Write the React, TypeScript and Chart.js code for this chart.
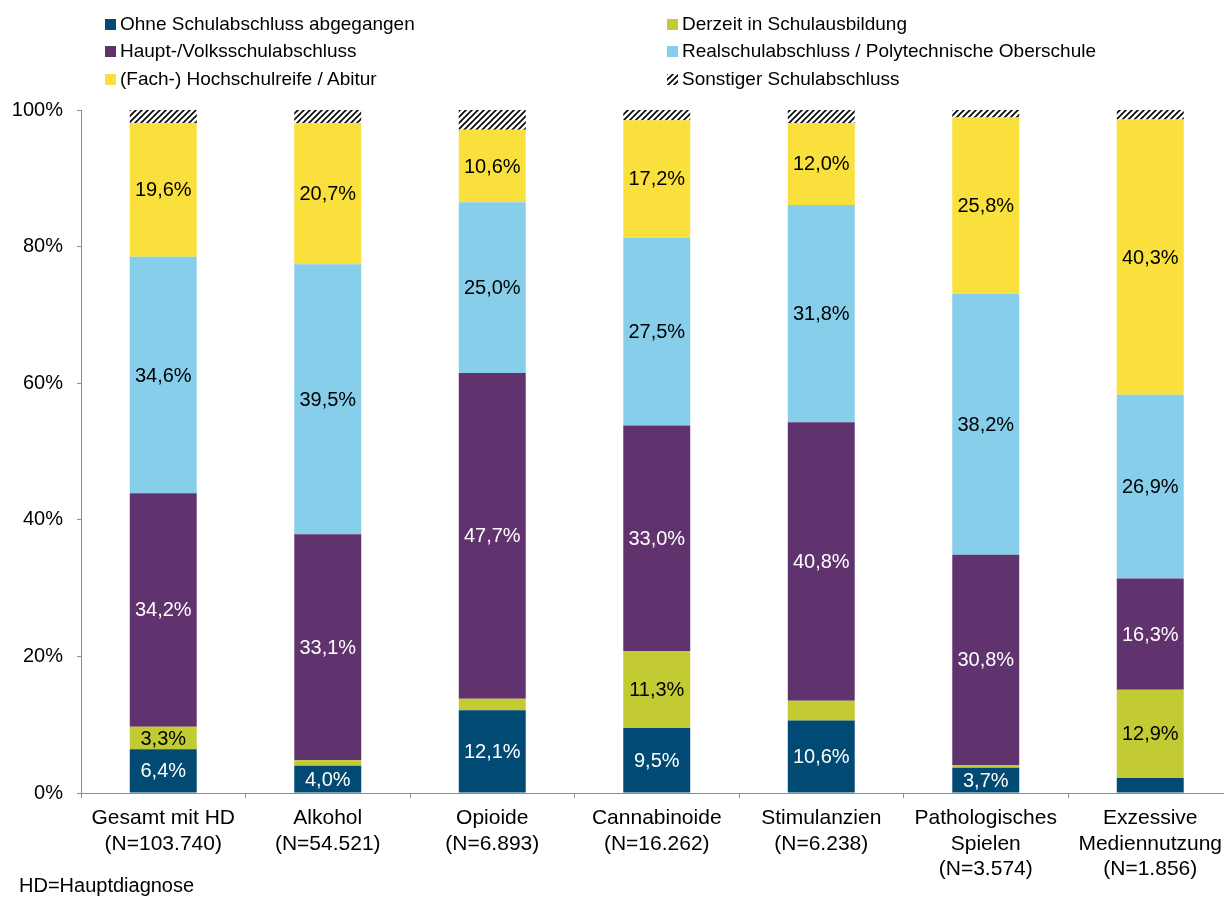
import React, { useEffect, useRef } from "react";
import { Chart, registerables } from "chart.js";

Chart.register(...registerables);

const categories: string[][] = [
  ["Gesamt mit HD", "(N=103.740)"],
  ["Alkohol", "(N=54.521)"],
  ["Opioide", "(N=6.893)"],
  ["Cannabinoide", "(N=16.262)"],
  ["Stimulanzien", "(N=6.238)"],
  ["Pathologisches", "Spielen", "(N=3.574)"],
  ["Exzessive", "Mediennutzung", "(N=1.856)"],
];

const seriesNames = [
  "Ohne Schulabschluss abgegangen",
  "Derzeit in Schulausbildung",
  "Haupt-/Volksschulabschluss",
  "Realschulabschluss / Polytechnische Oberschule",
  "(Fach-) Hochschulreife / Abitur",
  "Sonstiger Schulabschluss",
];

const ohne = [6.4, 4.0, 12.1, 9.5, 10.6, 3.7, 2.2];
const derzeit = [3.3, 0.8, 1.7, 11.3, 2.9, 0.4, 12.9];
const haupt = [34.2, 33.1, 47.7, 33.0, 40.8, 30.8, 16.3];
const real = [34.6, 39.5, 25.0, 27.5, 31.8, 38.2, 26.9];
const abitur = [19.6, 20.7, 10.6, 17.2, 12.0, 25.8, 40.3];
const sonstig = [1.9, 1.9, 2.9, 1.5, 1.9, 1.3, 1.4];

const yTicks = [0, 20, 40, 60, 80, 100];

const colors = ["#004A73", "#C2CB32", "#60336E", "#87CEEB", "#F9E03C"];
const labelColors = ["#ffffff", "#000000", "#ffffff", "#000000", "#000000"];

function makeHatch(): CanvasPattern | string {
  const c = document.createElement("canvas");
  c.width = 6;
  c.height = 6;
  const ctx = c.getContext("2d");
  if (!ctx) return "#888";
  ctx.fillStyle = "#ffffff";
  ctx.fillRect(0, 0, 6, 6);
  ctx.strokeStyle = "#000000";
  ctx.lineWidth = 1.6;
  ctx.beginPath();
  ctx.moveTo(-1, 7);
  ctx.lineTo(7, -1);
  ctx.moveTo(-4, 4);
  ctx.lineTo(4, -4);
  ctx.moveTo(2, 10);
  ctx.lineTo(10, 2);
  ctx.stroke();
  const p = ctx.createPattern(c, "repeat");
  return p || "#888";
}

const FONT = "'Liberation Sans', Arial, sans-serif";

const labelPlugin = {
  id: "segLabels",
  afterDatasetsDraw(chart: any) {
    const ctx = chart.ctx;
    ctx.save();
    ctx.font = `20px ${FONT}`;
    ctx.textAlign = "center";
    ctx.textBaseline = "middle";
    chart.data.datasets.forEach((ds: any, di: number) => {
      if (di > 4) return;
      const meta = chart.getDatasetMeta(di);
      meta.data.forEach((el: any, i: number) => {
        const v = ds.data[i];
        if (v < 3) return;
        const yc = (el.y + el.base) / 2;
        ctx.fillStyle = labelColors[di];
        ctx.fillText(v.toFixed(1).replace(".", ",") + "%", el.x, yc + 1);
      });
    });
    ctx.restore();
  },
};

export default function App() {
  const ref = useRef<HTMLCanvasElement>(null);
  const hatchRef = useRef<HTMLCanvasElement>(null);

  useEffect(() => {
    document.documentElement.style.overflow = "hidden";
    document.body.style.overflow = "hidden";
    if (!ref.current) return;
    const hatch = makeHatch();
    const all = [ohne, derzeit, haupt, real, abitur, sonstig];
    const chart = new Chart(ref.current, {
      type: "bar",
      data: {
        labels: categories,
        datasets: all.map((d, i) => ({
          label: seriesNames[i],
          data: d,
          backgroundColor: i < 5 ? colors[i] : (hatch as any),
          borderWidth: 0,
          categoryPercentage: 1,
          barPercentage: 0.407,
        })),
      },
      options: {
        animation: false,
        responsive: false,
        maintainAspectRatio: false,
        layout: { padding: { top: 110, left: 0, right: 7.5, bottom: 0 } },
        plugins: {
          legend: { display: false },
          tooltip: { enabled: false },
          title: { display: false },
        },
        scales: {
          x: {
            stacked: true,
            afterFit: (s: any) => {
              s.height = 104;
            },
            grid: {
              display: true,
              offset: true,
              drawOnChartArea: false,
              drawTicks: true,
              tickLength: 5,
              color: "#8c8c8c",
            },
            border: { display: true, color: "#8c8c8c", width: 1 },
            ticks: {
              color: "#000000",
              font: { family: FONT, size: 21, lineHeight: 1.2 },
              padding: 8,
              maxRotation: 0,
              autoSkip: false,
            },
          },
          y: {
            stacked: true,
            min: 0,
            max: 100,
            afterFit: (s: any) => {
              s.width = 81;
            },
            afterBuildTicks: (s: any) => {
              s.ticks = yTicks.map((v) => ({ value: v }));
            },
            grid: {
              display: true,
              drawOnChartArea: false,
              drawTicks: true,
              tickLength: 4,
              color: "#8c8c8c",
            },
            border: { display: true, color: "#8c8c8c", width: 1 },
            ticks: {
              color: "#000000",
              font: { family: FONT, size: 20 },
              padding: 14,
              callback: (v: any) => v + "%",
            },
          },
        },
      },
      plugins: [labelPlugin],
    });

    if (hatchRef.current) {
      const hc = hatchRef.current.getContext("2d");
      if (hc) {
        hc.fillStyle = hatch as any;
        hc.fillRect(0, 0, 11, 11);
      }
    }
    return () => chart.destroy();
  }, []);

  const legendItem = (i: number, left: number, top: number) => (
    <div
      key={i}
      style={{
        position: "absolute",
        left,
        top,
        display: "flex",
        alignItems: "center",
        fontFamily: FONT,
        fontSize: 19,
        color: "#000",
        whiteSpace: "nowrap",
        lineHeight: "22px",
      }}
    >
      {i < 5 ? (
        <span
          style={{
            display: "inline-block",
            width: 11,
            height: 11,
            background: colors[i],
            marginRight: 4,
          }}
        />
      ) : (
        <canvas ref={hatchRef} width={11} height={11} style={{ width: 11, height: 11, marginRight: 4 }} />
      )}
      <span>{seriesNames[i]}</span>
    </div>
  );

  const rowTops = [13, 40, 68];
  const colLefts = [105, 667];

  return (
    <div
      style={{
        position: "absolute",
        left: 0,
        top: 0,
        width: 1240,
        height: 897,
        overflow: "hidden",
        background: "#fff",
      }}
    >
      <canvas ref={ref} width={1240} height={897} style={{ position: "absolute", left: 0, top: 0, width: 1240, height: 897 }} />
      {[0, 1, 2, 3, 4, 5].map((i) => legendItem(i, colLefts[i % 2], rowTops[Math.floor(i / 2)]))}
      <div
        style={{
          position: "absolute",
          left: 19,
          top: 873,
          fontFamily: FONT,
          fontSize: 20,
          color: "#000",
          lineHeight: "24px",
          whiteSpace: "nowrap",
        }}
      >
        HD=Hauptdiagnose
      </div>
    </div>
  );
}
